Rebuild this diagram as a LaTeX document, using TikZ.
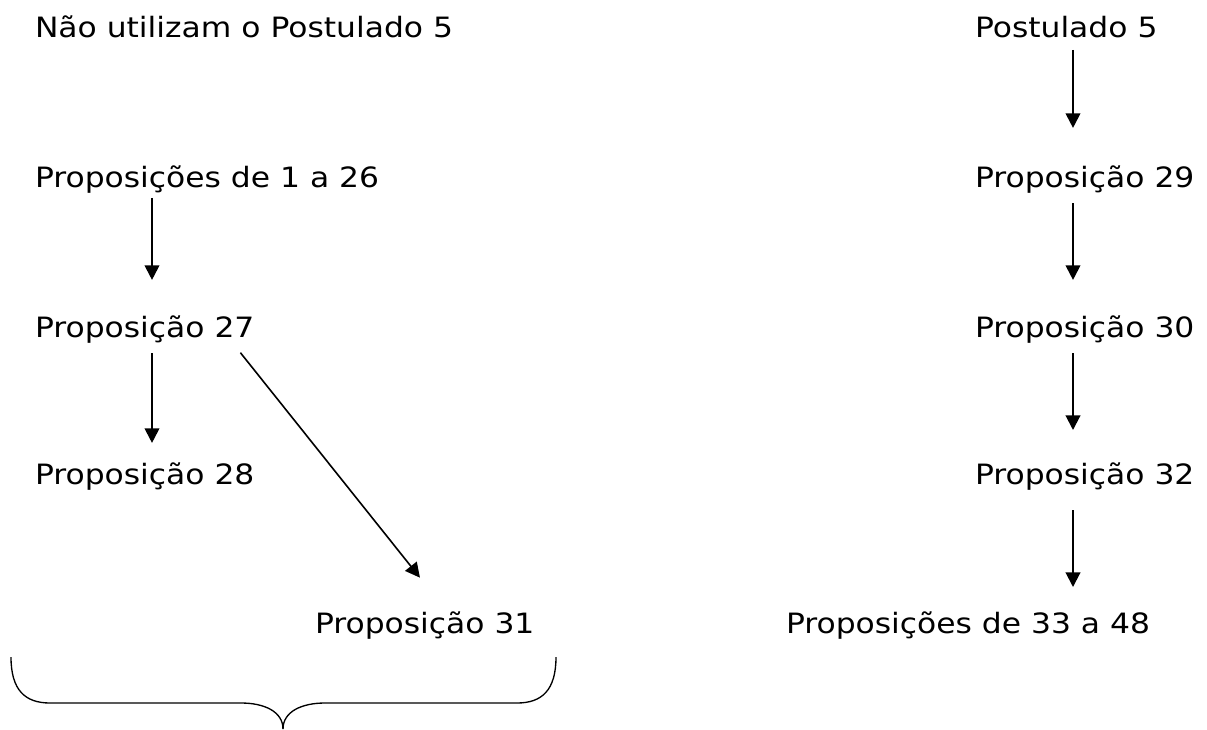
\documentclass[tikz,border=0pt]{standalone}
\usepackage{fontspec}
\setmainfont{DejaVu Sans}[FakeStretch=1.12]
\usetikzlibrary{arrows.meta, calc}
\tikzset{
  every picture/.style={line width=1.5pt},
  prop/.style={anchor=base west, inner sep=0pt, outer sep=0pt, text height=16pt, text depth=5pt, font=\fontsize{21pt}{25pt}\selectfont},
  arrow/.style={-{Triangle[length=11pt, width=11pt]}, line width=1.5pt},
  brace/.style={line width=1pt},
}

\begin{document}
\begin{tikzpicture}[x=0.75pt, y=-0.75pt]
  \useasboundingbox (0,0) rectangle (1207,729);
  \coordinate (lx) at (152,0);
  \coordinate (rx) at (1073,0);
  % left column
  \node[prop] (nao) at (35,37) {Não utilizam o Postulado 5};
  \node[prop] (p26) at (35,187) {Proposições de 1 a 26};
  \node[prop] (p27) at (35,337) {Proposição 27};
  \node[prop] (p28) at (35,484) {Proposição 28};
  \node[prop] (p31) at (315,633) {Proposição 31};
  % right column
  \node[prop] (post) at (975,37) {Postulado 5};
  \node[prop] (p29) at (975,187) {Proposição 29};
  \node[prop] (p30) at (975,337) {Proposição 30};
  \node[prop] (p32) at (975,484) {Proposição 32};
  \node[prop] (p48) at (786,633) {Proposições de 33 a 48};
  % arrows
  \draw[arrow, shorten <=3.2pt, shorten >=26.8pt] (p26.south -| lx) -- (p27.north -| lx);
  \draw[arrow, shorten <=7pt, shorten >=14.8pt] (p27.south -| lx) -- (p28.north -| lx);
  \draw[arrow, line width=1.2pt] ($(p27.south east)+(-14,9)$) -- ($(p31.north west)+(105,-34)$);
  \draw[arrow, shorten <=4.7pt, shorten >=28.3pt] (post.south -| rx) -- (p29.north -| rx);
  \draw[arrow, shorten <=7pt, shorten >=26.8pt] (p29.south -| rx) -- (p30.north -| rx);
  \draw[arrow, shorten <=7pt, shorten >=24.5pt] (p30.south -| rx) -- (p32.north -| rx);
  \draw[arrow, shorten <=14.5pt, shorten >=18.5pt] (p32.south -| rx) -- (p48.north -| rx);
  % brace under the left group
  \draw[brace] (11,657) .. controls (11,690) and (25,703) .. (50,703) -- (241,703)
    .. controls (265,703) and (283,712) .. (283,729);
  \draw[brace] (556,657) .. controls (556,690) and (542,703) .. (517,703) -- (325,703)
    .. controls (301,703) and (283,712) .. (283,729);
\end{tikzpicture}
\end{document}
